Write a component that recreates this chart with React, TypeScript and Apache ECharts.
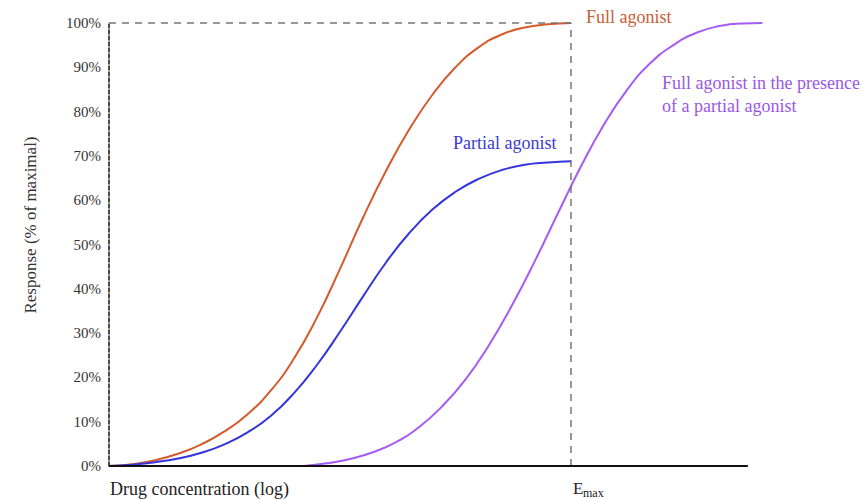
import React, { useEffect, useRef } from "react";
import * as echarts from "echarts";

// log drug concentration (arbitrary units, 0..100 across the plot)
const agonistX = [0, 3.5, 7, 10.5, 14, 17.5, 21, 24.5, 28, 31.5, 35, 38.5, 42, 45.5, 49, 52.5, 56, 59.5, 63, 66.5, 70];
const fullAgonist = [0, 0.4, 1.3, 2.8, 4.9, 7.8, 11.7, 17.0, 24.2, 33.5, 44.5, 56.1, 66.7, 76.0, 83.8, 90.0, 94.5, 97.4, 99.0, 99.7, 100];
const partialAgonist = [0, 0.3, 0.85, 1.7, 3.0, 4.9, 7.6, 11.3, 16.4, 22.8, 30.3, 38.3, 46.0, 52.6, 57.9, 61.9, 64.8, 66.8, 68.0, 68.5, 68.8];
const shiftedX = [29.5, 33, 36.5, 40, 43.5, 47, 50.5, 54, 57.5, 61, 64.5, 68, 71.5, 75, 78.5, 82, 85.5, 89, 92.5, 96, 99];
const shiftedAgonist = [0, 0.6, 1.6, 3.1, 5.4, 8.8, 13.5, 19.5, 27.1, 36.1, 46.2, 57.0, 67.6, 77.1, 84.9, 90.9, 95.0, 97.8, 99.3, 99.9, 100];

const yTicks = [0, 10, 20, 30, 40, 50, 60, 70, 80, 90, 100];
const emaxX = 70;
const xAxisEnd = 96.8;

const FONT = "'Liberation Serif', 'DejaVu Serif', serif";
const RED = "#d55a2c";
const BLUE = "#3434dc";
const PURPLE = "#a55cf3";

export default function App() {
  const ref = useRef<HTMLDivElement>(null);
  useEffect(() => {
    if (!ref.current) return;
    const chart = echarts.init(ref.current, null, { renderer: "svg" });
    const pairs = (xs: number[], ys: number[]) => xs.map((x, i) => [x, ys[i]]);
    chart.setOption({
      animation: false,
      backgroundColor: "#ffffff",
      grid: { left: 109, top: 23, width: 660, height: 443 },
      xAxis: {
        type: "value",
        min: 0,
        max: 100,
        axisLine: { show: false },
        axisTick: { show: false },
        axisLabel: { show: false },
        splitLine: { show: false },
      },
      yAxis: {
        type: "value",
        min: yTicks[0],
        max: yTicks[yTicks.length - 1],
        interval: 10,
        axisLine: { show: true, lineStyle: { color: "#111", type: [4, 2], width: 1.5 } },
        axisTick: { show: false },
        splitLine: { show: false },
        axisLabel: {
          formatter: "{value}%",
          fontFamily: FONT,
          fontSize: 15,
          color: "#333",
          margin: 8,
        },
      },
      series: [
        {
          type: "line",
          data: [],
          silent: true,
          markLine: {
            silent: true,
            symbol: "none",
            label: { show: false },
            data: [
              [
                { coord: [0, 100], lineStyle: { color: "#777", type: [7, 6], width: 1.5 } },
                { coord: [emaxX, 100] },
              ],
              [
                { coord: [emaxX, 0], lineStyle: { color: "#777", type: [7, 6], width: 1.5 } },
                { coord: [emaxX, 100] },
              ],
              [
                { coord: [0, 0], lineStyle: { color: "#111", type: "solid", width: 2 } },
                { coord: [xAxisEnd, 0] },
              ],
            ],
          },
        },
        {
          name: "Full agonist",
          type: "line",
          data: pairs(agonistX, fullAgonist),
          smooth: 0.5,
          showSymbol: false,
          clip: false,
          lineStyle: { color: RED, width: 2 },
        },
        {
          name: "Partial agonist",
          type: "line",
          data: pairs(agonistX, partialAgonist),
          smooth: 0.5,
          showSymbol: false,
          clip: false,
          lineStyle: { color: BLUE, width: 2 },
        },
        {
          name: "Full agonist in the presence of a partial agonist",
          type: "line",
          data: pairs(shiftedX, shiftedAgonist),
          smooth: 0.5,
          showSymbol: false,
          clip: false,
          lineStyle: { color: PURPLE, width: 2 },
        },
      ],
      graphic: [
        {
          type: "text",
          x: 30,
          y: 225,
          rotation: Math.PI / 2,
          style: {
            text: "Response (% of maximal)",
            fontFamily: FONT,
            fontSize: 17,
            fill: "#333",
            textAlign: "center",
            textVerticalAlign: "middle",
          },
        },
        {
          type: "text",
          x: 110,
          y: 489,
          style: {
            text: "Drug concentration (log)",
            fontFamily: FONT,
            fontSize: 18,
            fill: "#222",
            textAlign: "left",
            textVerticalAlign: "middle",
          },
        },
        {
          type: "text",
          x: 573,
          y: 488,
          style: { text: "E", fontFamily: FONT, fontSize: 17, fill: "#222", textAlign: "left", textVerticalAlign: "middle" },
        },
        {
          type: "text",
          x: 583,
          y: 493,
          style: { text: "max", fontFamily: FONT, fontSize: 12, fill: "#222", textAlign: "left", textVerticalAlign: "middle" },
        },
        {
          type: "text",
          x: 586,
          y: 17,
          style: { text: "Full agonist", fontFamily: FONT, fontSize: 18, fill: "#c95e37", textAlign: "left", textVerticalAlign: "middle" },
        },
        {
          type: "text",
          x: 453,
          y: 143,
          style: { text: "Partial agonist", fontFamily: FONT, fontSize: 18, fill: "#3b3bd2", textAlign: "left", textVerticalAlign: "middle" },
        },
        {
          type: "text",
          x: 662,
          y: 83,
          style: { text: "Full agonist in the presence", fontFamily: FONT, fontSize: 18, fill: "#9a57e4", textAlign: "left", textVerticalAlign: "middle" },
        },
        {
          type: "text",
          x: 662,
          y: 106,
          style: { text: "of a partial agonist", fontFamily: FONT, fontSize: 18, fill: "#9a57e4", textAlign: "left", textVerticalAlign: "middle" },
        },
      ],
    });
    return () => chart.dispose();
  }, []);
  return <div ref={ref} style={{ position: "absolute", left: 0, top: 0, width: 868, height: 499 }} />;
}
